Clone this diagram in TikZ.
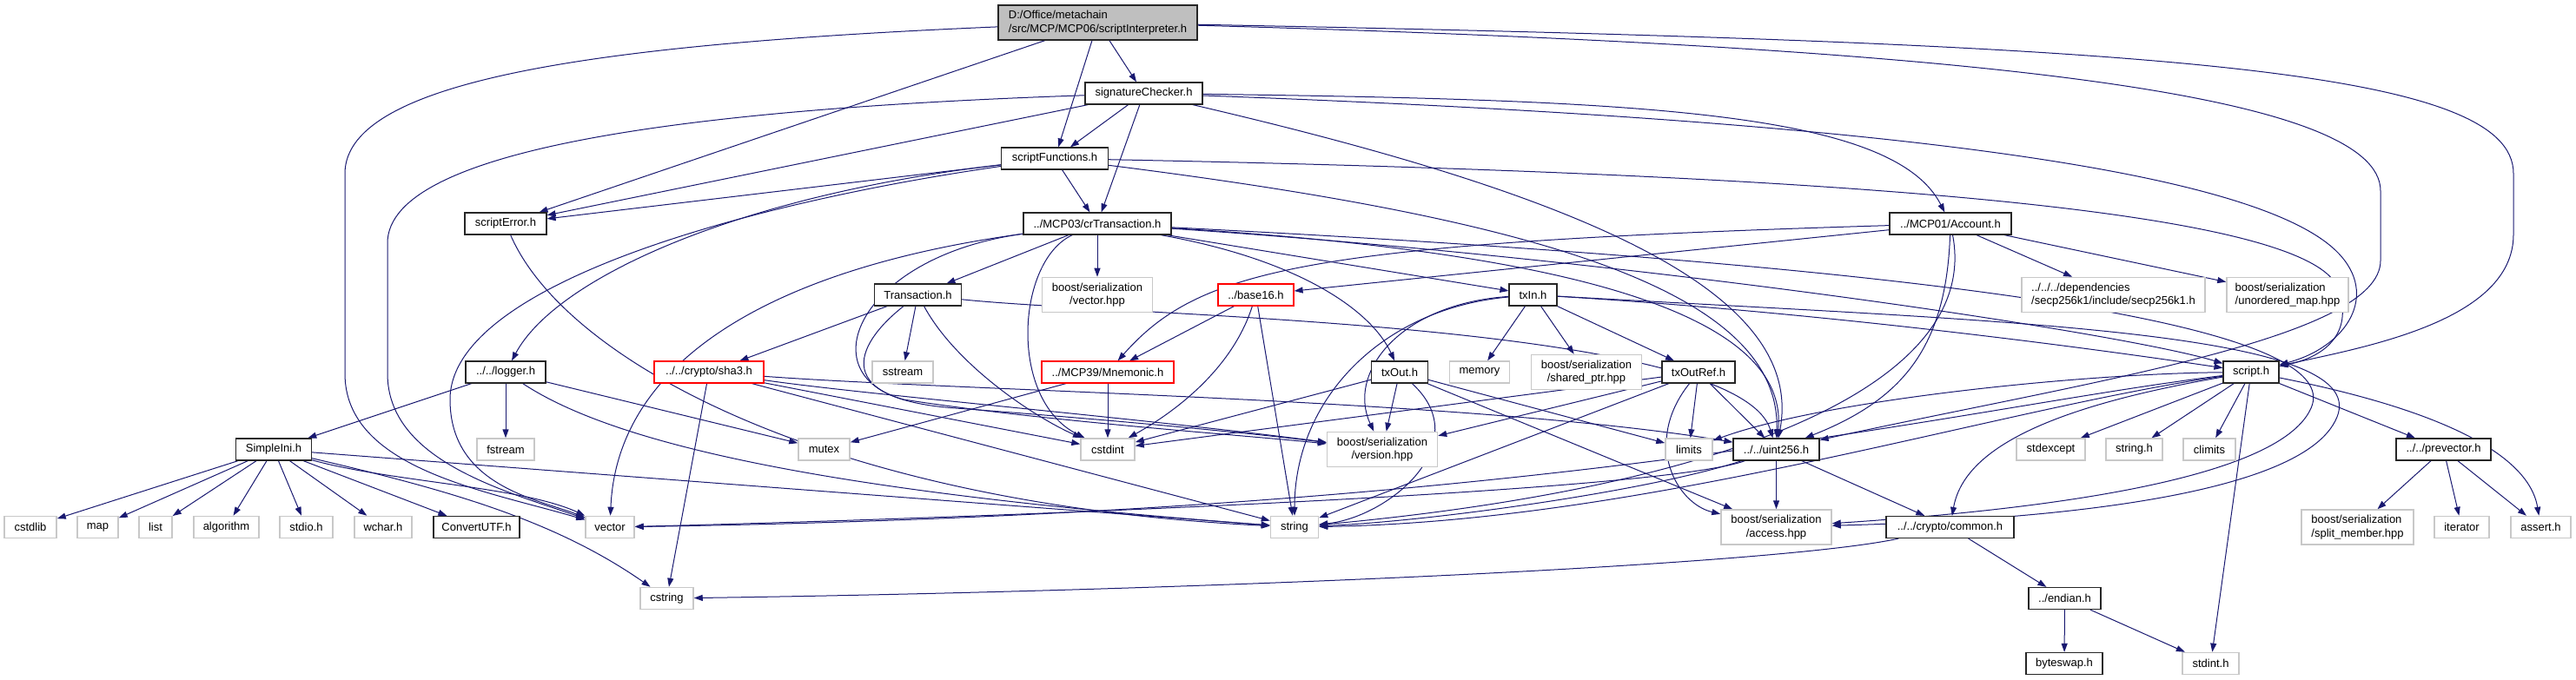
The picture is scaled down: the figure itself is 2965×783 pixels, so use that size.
\documentclass[tikz,border=0pt]{standalone}
\usepackage{fontspec}
\setmainfont{Liberation Sans}
\usetikzlibrary{arrows.meta}
\pgfdeclarelayer{bg}
\pgfsetlayers{bg,main}
\definecolor{edgec}{HTML}{191970}
\definecolor{extc}{HTML}{C8C8C8}
\definecolor{rootc}{HTML}{BFBFBF}
\definecolor{docc}{HTML}{262626}
\tikzset{
  nbox/.style={rectangle, inner xsep=4pt, inner ysep=0pt, minimum height=25pt,
    font=\fontsize{13}{15.3}\selectfont, fill=white, line width=1.2pt},
  docn/.style={nbox, draw=docc},
  extn/.style={nbox, draw=extc, line width=1.5pt},
  redn/.style={nbox, draw=red},
  rootn/.style={nbox, draw=docc, fill=rootc, align=left, minimum height=40pt},
  twoc/.style={minimum height=40pt, align=center},
  twol/.style={minimum height=40pt, align=left},
  dep/.style={draw=edgec, line width=1pt, -{Triangle[length=10pt,width=7pt]}},
}
\begin{document}
\begin{tikzpicture}[x=1pt,y=-1pt]
\useasboundingbox (0,0) rectangle (2965,783);
% ---- nodes ----
\node[rootn, minimum width=229pt] (root) at (1263.5,26) {D:/Office/metachain\\/src/MCP/MCP06/scriptInterpreter.h};
\node[docn, minimum width=135pt] (sig) at (1316.5,107.5) {signatureChecker.h};
\node[docn, minimum width=123pt] (sfun) at (1214,182.5) {scriptFunctions.h};
\node[docn, minimum width=94pt] (serr) at (582,257.5) {scriptError.h};
\node[docn, minimum width=170pt] (crt) at (1263,257.5) {../MCP03/crTransaction.h};
\node[docn, minimum width=140pt] (acc) at (2245,257.5) {../MCP01/Account.h};
\node[docn, minimum width=100pt] (trans) at (1056.5,339.5) {Transaction.h};
\node[extn, twoc, minimum width=127pt] (vhpp) at (1263,339.5) {boost/serialization\\/vector.hpp};
\node[redn, minimum width=87pt] (b16) at (1445.5,339.5) {../base16.h};
\node[docn, minimum width=55pt] (txin) at (1764.5,339.5) {txIn.h};
\node[extn, twol, minimum width=211pt] (secp) at (2432.5,339.5) {../../../dependencies\\/secp256k1/include/secp256k1.h};
\node[extn, twol, minimum width=140pt] (umap) at (2633,339.5) {boost/serialization\\/unordered\_map.hpp};
\node[docn, minimum width=92pt] (logger) at (582,428.5) {../../logger.h};
\node[redn, minimum width=126pt] (sha3) at (816,428.5) {../../crypto/sha3.h};
\node[extn, minimum width=70pt] (sstream) at (1039,428.5) {sstream};
\node[redn, minimum width=152pt] (mnem) at (1275,428.5) {../MCP39/Mnemonic.h};
\node[docn, minimum width=65pt] (txout) at (1611,428.5) {txOut.h};
\node[extn, minimum width=69pt] (memory) at (1703,428.5) {memory};
\node[extn, twoc, minimum width=127pt] (shptr) at (1826,428.5) {boost/serialization\\/shared\_ptr.hpp};
\node[docn, minimum width=84pt] (txoref) at (1955,428.5) {txOutRef.h};
\node[docn, minimum width=64pt] (script) at (2591,428.5) {script.h};
\node[docn, minimum width=87pt] (simple) at (315,517.5) {SimpleIni.h};
\node[extn, minimum width=66pt] (fstream) at (582,517.5) {fstream};
\node[extn, minimum width=59pt] (mutex) at (948.5,517.5) {mutex};
\node[extn, minimum width=62pt] (cstdint) at (1275,517.5) {cstdint};
\node[extn, twoc, minimum width=127pt] (verhpp) at (1591,517.5) {boost/serialization\\/version.hpp};
\node[extn, minimum width=54pt] (limits) at (1944,517.5) {limits};
\node[docn, minimum width=99pt] (u256) at (2044.5,517.5) {../../uint256.h};
\node[extn, minimum width=79pt] (stdexc) at (2360.5,517.5) {stdexcept};
\node[extn, minimum width=65pt] (stringh) at (2456.5,517.5) {string.h};
\node[extn, minimum width=60pt] (climits) at (2543,517.5) {climits};
\node[docn, minimum width=109pt] (prevec) at (2812.5,517.5) {../../prevector.h};
\node[extn, minimum width=60pt] (cstdlib) at (35,607) {cstdlib};
\node[extn, minimum width=47pt] (map) at (112.5,607) {map};
\node[extn, minimum width=38pt] (list) at (179,607) {list};
\node[extn, minimum width=75pt] (algo) at (260.5,607) {algorithm};
\node[extn, minimum width=61pt] (stdio) at (352.5,607) {stdio.h};
\node[extn, minimum width=66pt] (wchar) at (441,607) {wchar.h};
\node[docn, minimum width=99pt] (cutf) at (548.5,607) {ConvertUTF.h};
\node[extn, minimum width=56pt] (vector) at (702,607) {vector};
\node[extn, minimum width=55pt] (string) at (1490,607) {string};
\node[extn, twoc, minimum width=127pt] (access) at (2044.5,607) {boost/serialization\\/access.hpp};
\node[docn, minimum width=147pt] (common) at (2244.5,607) {../../crypto/common.h};
\node[extn, twol, minimum width=129pt] (split) at (2713.5,607) {boost/serialization\\/split\_member.hpp};
\node[extn, minimum width=63pt] (iter) at (2833.5,607) {iterator};
\node[extn, minimum width=69pt] (assert) at (2924.5,607) {assert.h};
\node[extn, minimum width=61pt] (cstring) at (767.5,689) {cstring};
\node[docn, minimum width=83pt] (endian) at (2376.5,689) {../endian.h};
\node[docn, minimum width=88pt] (byteswap) at (2376,764) {byteswap.h};
\node[extn, minimum width=65pt] (stdinth) at (2544.5,764) {stdint.h};
% ---- edges ----
\begin{pgfonlayer}{bg}
% root
\draw[dep] (root) -- (sig);
\draw[dep] (root) -- (sfun);
\draw[dep] (root) -- (serr);
\draw[dep] (root) .. controls (700,50) and (397,90) .. (397,200) -- (397,430) .. controls (397,540) and (560,565) .. (vector);
\draw[dep] (root) .. controls (2500,50) and (2893,80) .. (2893,200) -- (2893,270) .. controls (2893,370) and (2720,400) .. (script);
\draw[dep] (root) .. controls (2300,55) and (2740,110) .. (2740,220) -- (2740,300) .. controls (2740,390) and (2400,440) .. (u256);
% signatureChecker
\draw[dep] (sig) -- (sfun);
\draw[dep] (sig) -- (crt);
\draw[dep] (sig) -- (serr);
\draw[dep] (sig) .. controls (800,125) and (446,170) .. (446,280) -- (446,430) .. controls (446,530) and (580,565) .. (vector);
\draw[dep] (sig) .. controls (1900,115) and (2180,130) .. (acc);
\draw[dep] (sig) .. controls (2200,140) and (2600,200) .. (2690,290) .. controls (2740,340) and (2700,400) .. (script);
\draw[dep] (sig) .. controls (1800,220) and (2080,330) .. (u256);
% scriptFunctions
\draw[dep] (sfun) -- (crt);
\draw[dep] (sfun) -- (serr);
\draw[dep] (sfun) .. controls (850,225) and (640,320) .. (logger);
\draw[dep] (sfun) .. controls (850,235) and (518,330) .. (518,460) .. controls (518,560) and (620,575) .. (vector);
\draw[dep] (sfun) .. controls (2100,200) and (2650,240) .. (2690,330) .. controls (2710,380) and (2680,410) .. (script);
\draw[dep] (sfun) .. controls (1750,250) and (2050,330) .. (u256);
% crTransaction
\draw[dep] (crt) -- (trans);
\draw[dep] (crt) -- (vhpp);
\draw[dep] (crt) -- (txin);
\draw[dep] (crt) .. controls (1500,300) and (1580,360) .. (txout);
\draw[dep] (crt) .. controls (1170,300) and (1160,460) .. (cstdint);
\draw[dep] (crt) .. controls (880,310) and (710,420) .. (vector);
\draw[dep] (crt) .. controls (990,295) and (930,430) .. (1040,460) .. controls (1200,485) and (1420,500) .. (verhpp);
\draw[dep] (crt) .. controls (1800,290) and (2060,360) .. (u256);
\draw[dep] (crt) .. controls (1900,300) and (2450,385) .. (script);
\draw[dep] (crt) .. controls (2300,310) and (2700,380) .. (2660,470) .. controls (2620,560) and (2300,590) .. (access);
% Account
\draw[dep] (acc) -- (b16);
\draw[dep] (acc) .. controls (1500,280) and (1380,310) .. (mnem);
\draw[dep] (acc) -- (secp);
\draw[dep] (acc) -- (umap);
\draw[dep] (acc) .. controls (2240,400) and (2190,460) .. (u256);
\draw[dep] (acc) .. controls (2280,440) and (2000,560) .. (string);
% Transaction
\draw[dep] (trans) -- (sstream);
\draw[dep] (trans) -- (sha3);
\draw[dep] (trans) .. controls (1100,420) and (1190,480) .. (cstdint);
\draw[dep] (trans) .. controls (1300,365) and (2000,370) .. (u256);
\draw[dep] (trans) .. controls (980,400) and (960,460) .. (1100,470) .. controls (1300,485) and (1450,500) .. (verhpp);
% base16
\draw[dep] (b16) -- (mnem);
\draw[dep] (b16) .. controls (1420,420) and (1360,470) .. (cstdint);
\draw[dep] (b16) -- (string);
% txIn
\draw[dep] (txin) -- (memory);
\draw[dep] (txin) -- (shptr);
\draw[dep] (txin) -- (txoref);
\draw[dep] (txin) .. controls (1610,350) and (1550,430) .. (verhpp);
\draw[dep] (txin) .. controls (1590,355) and (1490,460) .. (string);
\draw[dep] (txin) .. controls (2100,360) and (2400,400) .. (script);
\draw[dep] (txin) .. controls (2300,370) and (2730,380) .. (2690,480) .. controls (2650,580) and (2300,600) .. (access);
% txOut
\draw[dep] (txout) -- (cstdint);
\draw[dep] (txout) -- (verhpp);
\draw[dep] (txout) .. controls (1700,510) and (1600,595) .. (string);
\draw[dep] (txout) -- (limits);
\draw[dep] (txout) -- (access);
% txOutRef
\draw[dep] (txoref) -- (limits);
\draw[dep] (txoref) -- (u256);
\draw[dep] (txoref) .. controls (1890,510) and (1930,580) .. (access);
\draw[dep] (txoref) -- (string);
\draw[dep] (txoref) -- (verhpp);
\draw[dep] (txoref) -- (cstdint);
% sha3
\draw[dep] (sha3) -- (cstdint);
\draw[dep] (sha3) .. controls (1000,455) and (1300,480) .. (verhpp);
\draw[dep] (sha3) .. controls (1100,450) and (1700,460) .. (u256);
\draw[dep] (sha3) -- (string);
\draw[dep] (sha3) -- (cstring);
% logger
\draw[dep] (logger) -- (simple);
\draw[dep] (logger) -- (fstream);
\draw[dep] (logger) -- (mutex);
\draw[dep] (logger) .. controls (720,520) and (1000,570) .. (string);
% Mnemonic
\draw[dep] (mnem) -- (cstdint);
\draw[dep] (mnem) -- (mutex);
% SimpleIni
\draw[dep] (simple) -- (cstdlib);
\draw[dep] (simple) -- (map);
\draw[dep] (simple) -- (list);
\draw[dep] (simple) -- (algo);
\draw[dep] (simple) -- (stdio);
\draw[dep] (simple) -- (wchar);
\draw[dep] (simple) -- (cutf);
\draw[dep] (simple) .. controls (450,555) and (600,560) .. (vector);
\draw[dep] (simple) -- (string);
\draw[dep] (simple) .. controls (520,565) and (640,600) .. (cstring);
% scriptError
\draw[dep] (serr) .. controls (650,415) and (950,580) .. (string);
% uint256
\draw[dep] (u256) -- (access);
\draw[dep] (u256) -- (common);
\draw[dep] (u256) .. controls (1900,570) and (1000,600) .. (vector);
\draw[dep] (u256) .. controls (1900,565) and (1650,600) .. (string);
% script.h
\draw[dep] (script) .. controls (2400,430) and (2100,460) .. (limits);
\draw[dep] (script) .. controls (2250,470) and (1800,590) .. (vector);
\draw[dep] (script) .. controls (2300,470) and (1900,600) .. (string);
\draw[dep] (script) .. controls (2350,470) and (2260,520) .. (common);
\draw[dep] (script) -- (stdexc);
\draw[dep] (script) -- (stringh);
\draw[dep] (script) -- (climits);
\draw[dep] (script) -- (prevec);
\draw[dep] (script) -- (stdinth);
\draw[dep] (script) .. controls (2800,470) and (2910,520) .. (assert);
% prevector
\draw[dep] (prevec) -- (split);
\draw[dep] (prevec) -- (iter);
\draw[dep] (prevec) -- (assert);
% common
\draw[dep] (common) -- (endian);
\draw[dep] (common) .. controls (2050,650) and (1400,680) .. (cstring);
% endian
\draw[dep] (endian) -- (byteswap);
\draw[dep] (endian) -- (stdinth);
\end{pgfonlayer}
\end{tikzpicture}
\end{document}
